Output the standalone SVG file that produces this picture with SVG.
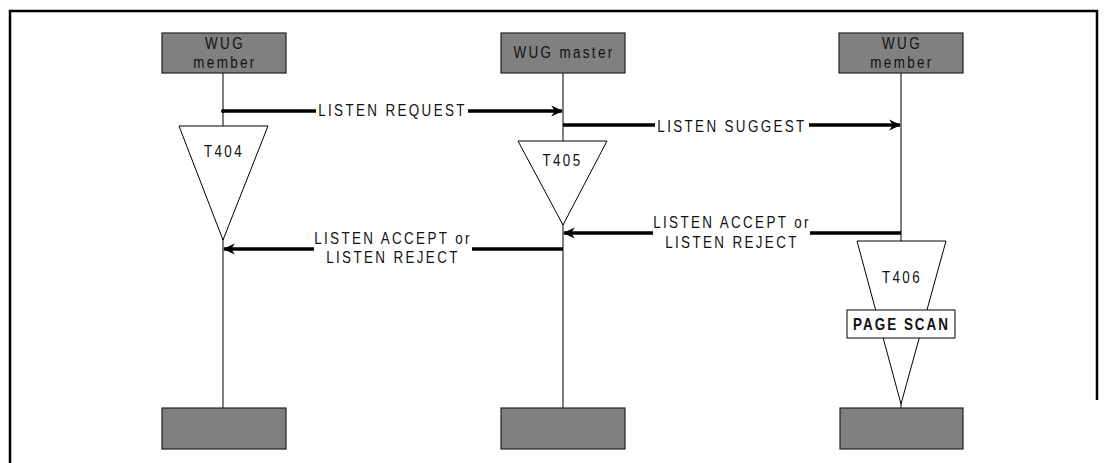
<svg xmlns="http://www.w3.org/2000/svg" width="1108" height="463" viewBox="0 0 1108 463">
<defs>
<style>
.frame{fill:none;stroke:#000;stroke-width:2.5}
.box{fill:#808080;stroke:#222;stroke-width:1.2}
.life{stroke:#000;stroke-width:1;fill:none}
.tri{fill:#fff;stroke:#000;stroke-width:1}
.msg{stroke:#000;stroke-width:3.5;fill:none}
.t{font-family:"Liberation Sans",Arial,sans-serif;font-size:16px;letter-spacing:2.8px;fill:#111;text-anchor:middle}
.b{font-weight:bold;letter-spacing:2.4px}
</style>
<marker id="ah2" viewBox="0 0 10 10" refX="9" refY="5" markerWidth="12" markerHeight="12" markerUnits="userSpaceOnUse" orient="auto">
<path d="M0,0.5 L10,5 L0,9.5 L3,5 Z" fill="#000"/>
</marker>
</defs>
<rect width="1108" height="463" fill="#fff"/>
<path class="frame" d="M10,463 V11 H1097 V400"/>

<g id="lifelines" class="life">
<line x1="223" y1="73" x2="223" y2="408"/>
<line x1="563" y1="73" x2="563" y2="408"/>
<line x1="901" y1="73" x2="901" y2="241"/>
<line x1="901" y1="402" x2="901" y2="408"/>
</g>

<g id="member1">
<rect class="box" x="162" y="33" width="124" height="40"/>
<text class="t" transform="translate(225,49) scale(0.84,1)">WUG</text>
<text class="t" transform="translate(225,68) scale(0.84,1)">member</text>
</g>
<g id="master">
<rect class="box" x="501" y="33" width="124" height="40"/>
<text class="t" transform="translate(564,58) scale(0.84,1)">WUG master</text>
</g>
<g id="member2">
<rect class="box" x="839" y="33" width="124" height="40"/>
<text class="t" transform="translate(902,49) scale(0.84,1)">WUG</text>
<text class="t" transform="translate(902,68) scale(0.84,1)">member</text>
</g>

<g id="end1"><rect class="box" x="162" y="408" width="124" height="41"/></g>
<g id="end2"><rect class="box" x="501" y="408" width="124" height="41"/></g>
<g id="end3"><rect class="box" x="840" y="408" width="123" height="41"/></g>

<g id="timer-T404">
<polygon class="tri" points="179,126 268,126 223,240"/>
<text class="t" transform="translate(224,156.5) scale(0.84,1)">T404</text>
</g>
<g id="timer-T405">
<polygon class="tri" points="518,141 607,141 563,225"/>
<text class="t" transform="translate(562.5,165.5) scale(0.84,1)">T405</text>
</g>
<g id="timer-T406">
<polygon class="tri" points="857,241 946,241 901,404"/>
<text class="t" transform="translate(902,283) scale(0.84,1)">T406</text>
<rect x="847" y="310" width="108" height="28" fill="#fff" stroke="#000" stroke-width="1"/>
<text class="t b" transform="translate(901.5,330) scale(0.84,1)">PAGE SCAN</text>
</g>

<g id="connectors">
<circle cx="223" cy="111" r="2" fill="#000"/>
<line class="msg" x1="223" y1="111" x2="316" y2="111"/>
<line class="msg" x1="468" y1="111" x2="562" y2="111" marker-end="url(#ah2)"/>
<text class="t" transform="translate(392.5,116) scale(0.84,1)">LISTEN REQUEST</text>

<line class="msg" x1="563" y1="125" x2="655" y2="125"/>
<line class="msg" x1="809" y1="125" x2="900" y2="125" marker-end="url(#ah2)"/>
<text class="t" transform="translate(732,131.5) scale(0.84,1)">LISTEN SUGGEST</text>

<line class="msg" x1="901" y1="233" x2="810" y2="233"/>
<line class="msg" x1="653" y1="233" x2="564" y2="233" marker-end="url(#ah2)"/>
<text class="t" transform="translate(732,227.5) scale(0.84,1)">LISTEN ACCEPT or</text>
<text class="t" transform="translate(732,248) scale(0.84,1)">LISTEN REJECT</text>

<line class="msg" x1="563" y1="249" x2="472" y2="249"/>
<line class="msg" x1="314" y1="249" x2="224" y2="249" marker-end="url(#ah2)"/>
<text class="t" transform="translate(393,244) scale(0.84,1)">LISTEN ACCEPT or</text>
<text class="t" transform="translate(393,263) scale(0.84,1)">LISTEN REJECT</text>
</g>
</svg>
